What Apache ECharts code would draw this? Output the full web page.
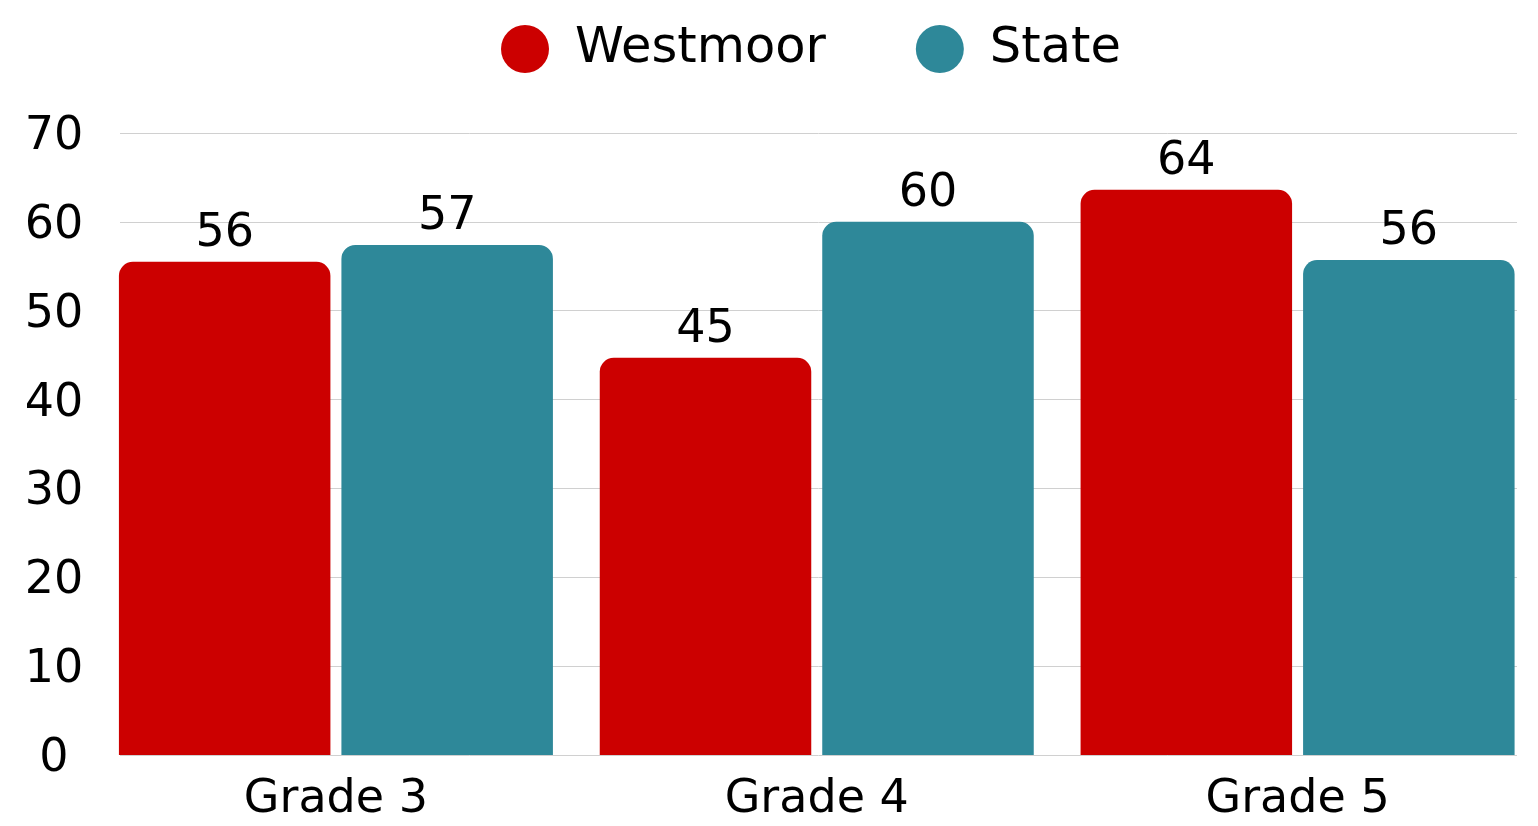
<!DOCTYPE html>
<html>
<head>
<meta charset="utf-8">
<script src="https://cdn.jsdelivr.net/npm/echarts@6/dist/echarts.min.js"></script>
<style>
html,body{margin:0;padding:0;background:#fff;}
#chart{width:1538px;height:826px;}
</style>
</head>
<body>
<div id="chart"></div>
<script>
const categories = ['Grade 3', 'Grade 4', 'Grade 5'];
const westmoor = [55.5, 44.7, 63.6];
const state = [57.4, 60.0, 55.7];
const yTicks = [0, 10, 20, 30, 40, 50, 60, 70];

const FONT = 'DejaVu Sans';
const chart = echarts.init(document.getElementById('chart'), null, {renderer: 'canvas'});
const labelFmt = p => String(Math.round(p.value));
const yMin = yTicks[0], yMax = yTicks[yTicks.length - 1];
chart.setOption({
  animation: false,
  legend: {
    left: 501, top: 24, padding: 0,
    icon: 'circle', itemWidth: 48, itemHeight: 48, itemGap: 90,
    textStyle: {fontFamily: FONT, fontSize: 49.5, color: '#000', padding: [12, 0, 0, 21]},
    data: ['Westmoor', 'State']
  },
  grid: [
    {left: 120, right: 21, top: 133, bottom: 71},
    {left: 95.5, width: 1446, top: 133, bottom: 71},
    {left: 120, right: 21, top: 137, bottom: 67}
  ],
  xAxis: [
    {type: 'category', gridIndex: 0, data: categories, show: false},
    {type: 'category', gridIndex: 1, data: categories,
      axisLine: {show: false}, axisTick: {show: false},
      axisLabel: {fontFamily: FONT, fontSize: 46, color: '#000', margin: 22}},
    {type: 'category', gridIndex: 2, data: categories, show: false}
  ],
  yAxis: [
    {type: 'value', gridIndex: 0, min: yMin, max: yMax, interval: 10,
      axisLine: {show: false}, axisTick: {show: false}, axisLabel: {show: false},
      splitLine: {lineStyle: {color: '#d0d0d0', width: 1}}},
    {type: 'value', gridIndex: 1, min: yMin, max: yMax, interval: 10, show: false,
      splitLine: {show: false}},
    {type: 'value', gridIndex: 2, min: yMin, max: yMax, interval: 10,
      axisLine: {show: false}, axisTick: {show: false}, splitLine: {show: false},
      axisLabel: {fontFamily: FONT, fontSize: 46, color: '#000', align: 'center', margin: 66}}
  ],
  series: [
    {name: 'Westmoor', type: 'bar', xAxisIndex: 1, yAxisIndex: 1, data: westmoor,
      barWidth: 211.5, barGap: '5.2%',
      itemStyle: {color: '#CC0000', borderRadius: [14, 14, 0, 0]},
      label: {show: true, position: 'top', distance: 5, formatter: labelFmt,
        fontFamily: FONT, fontSize: 46, color: '#000'}},
    {name: 'State', type: 'bar', xAxisIndex: 1, yAxisIndex: 1, data: state,
      barWidth: 211.5, barGap: '5.2%',
      itemStyle: {color: '#2E8899', borderRadius: [14, 14, 0, 0]},
      label: {show: true, position: 'top', distance: 5, formatter: labelFmt,
        fontFamily: FONT, fontSize: 46, color: '#000'}}
  ]
});
</script>
</body>
</html>
